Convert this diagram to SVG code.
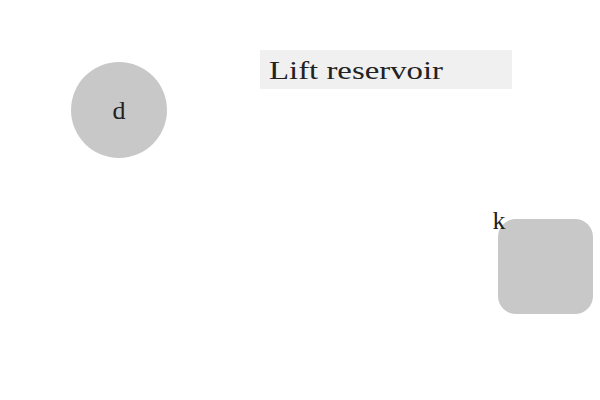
<svg xmlns="http://www.w3.org/2000/svg" width="600" height="400" viewBox="0 0 600 400">
<style>
.lbl{font-family:"Liberation Serif","DejaVu Serif",serif;font-size:26px;fill:#222}
.node{fill:#c8c8c8}
</style>
<rect width="600" height="400" fill="#ffffff"/>
<g id="title">
<rect x="260" y="50" width="252" height="39" fill="#f0f0f0"/>
<text class="lbl" x="269" y="79" textLength="174" lengthAdjust="spacingAndGlyphs">Lift reservoir</text>
</g>
<g id="node-d">
<circle class="node" cx="119" cy="110" r="48"/>
<text class="lbl" x="119" y="119" text-anchor="middle">d</text>
</g>
<g id="node-k">
<rect class="node" x="498" y="219" width="95" height="95" rx="18"/>
<text class="lbl" x="499" y="229" text-anchor="middle">k</text>
</g>
<g id="connectors"></g>
</svg>
